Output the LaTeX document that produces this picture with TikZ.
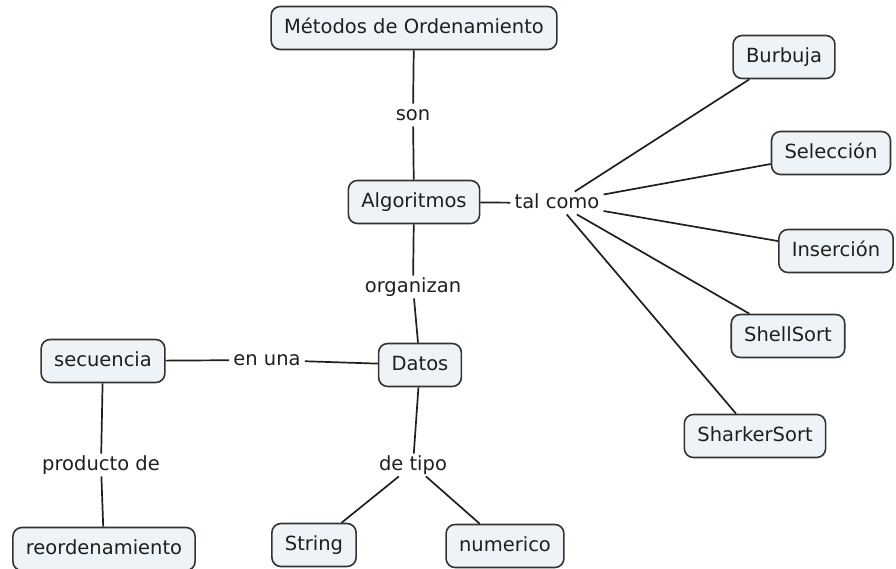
\documentclass[tikz,border=0pt]{standalone}
\usepackage{fontspec}
\setmainfont{DejaVu Sans}
\begin{document}
\begin{tikzpicture}[x=1pt,y=-1pt,
  every node/.style={font=\fontsize{19.5}{23}\selectfont, text=black!88},
  concept/.style={draw=black!80, line width=1.6pt, rounded corners=9pt,
    fill={rgb,255:red,237;green,243;blue,246},
    inner xsep=13pt, inner ysep=0pt, minimum height=43pt,
    text height=14.5pt, text depth=4pt},
  linkword/.style={inner xsep=4pt, inner ysep=2pt,
    text height=14.5pt, text depth=4pt},
  link/.style={draw=black!88, line width=1.7pt}]
\useasboundingbox (0,0) rectangle (896,569);

% concepts
\node[concept] (metodos)   at (414,28)  {Métodos de Ordenamiento};
\node[concept] (alg)       at (414,202) {Algoritmos};
\node[concept] (burbuja)   at (784,57)  {Burbuja};
\node[concept] (seleccion) at (831,153) {Selección};
\node[concept] (insercion) at (836,251) {Inserción};
\node[concept] (shell)     at (788,336) {ShellSort};
\node[concept] (sharker)   at (755,436) {SharkerSort};
\node[concept] (datos)     at (420,365) {Datos};
\node[concept] (secuencia) at (103,361) {secuencia};
\node[concept] (reord)     at (104,549) {reordenamiento};
\node[concept] (string)    at (314,545) {String};
\node[concept] (numerico)  at (505,546) {numerico};

% linking phrases
\node[linkword] (son)       at (413,115) {son};
\node[linkword] (talcomo)   at (557,203) {tal como};
\node[linkword] (organizan) at (413,287) {organizan};
\node[linkword] (enuna)     at (267,360) {en una};
\node[linkword] (producto)  at (101,465) {producto de};
\node[linkword] (detipo)    at (413,465) {de tipo};

% connections
\path[link] (metodos) -- (son) (son) -- (alg);
\path[link] (alg) -- (talcomo);
\path[link] (talcomo) -- (burbuja);
\path[link] (talcomo) -- (seleccion);
\path[link] (talcomo) -- (insercion);
\path[link] (talcomo) -- (shell);
\path[link] (talcomo) -- (sharker);
\path[link] (alg) -- (organizan) (organizan) -- (datos);
\path[link] (datos) -- (enuna) (enuna) -- (secuencia);
\path[link] (secuencia) -- (producto) (producto) -- (reord);
\path[link] (datos) -- (detipo);
\path[link] (detipo) -- (string);
\path[link] (detipo) -- (numerico);
\end{tikzpicture}
\end{document}
